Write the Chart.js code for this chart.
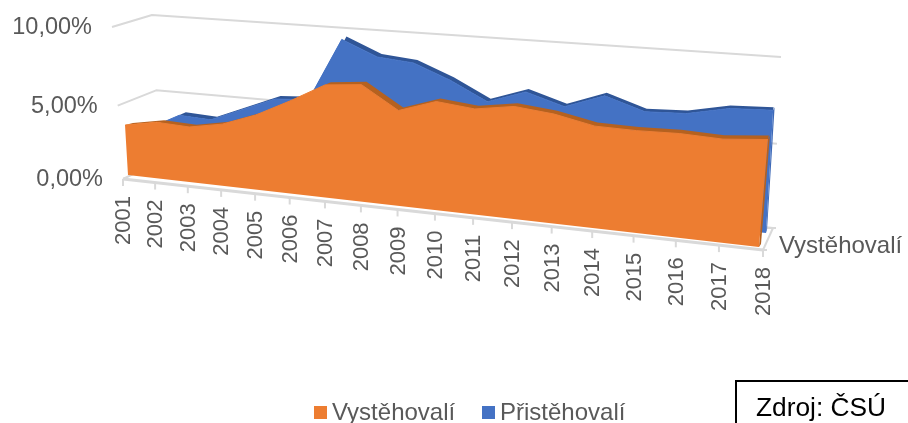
<!DOCTYPE html>
<html><head><meta charset="utf-8">
<style>html,body{margin:0;padding:0;background:#fff;overflow:hidden}canvas{display:block}</style>
<script src="https://cdn.jsdelivr.net/npm/chart.js@4"></script></head>
<body><canvas id="c" width="908" height="423"></canvas>
<script>
const years = ['2001','2002','2003','2004','2005','2006','2007','2008','2009','2010','2011','2012','2013','2014','2015','2016','2017','2018'];
const vystehovali = [3.4,3.8,3.7,4.1,4.9,6.0,7.2,7.4,6.0,6.75,6.5,6.85,6.6,6.1,6.05,6.1,6.0,6.2];
const pristehovali = [2.5,3.6,3.5,4.4,5.3,5.45,9.5,8.55,8.35,7.45,6.3,7.1,6.4,7.25,6.5,6.6,7.1,7.2];
const seriesNames = ['Vystěhovalí','Přistěhovalí'];
const seriesAxisLabel = 'Vystěhovalí';
const sourceText = 'Zdroj: ČSÚ';
const TEXT = '#595959', GRID = '#D9D9D9', ORANGE = '#ED7D31', ORANGE_D = '#B5611F', BLUE = '#4472C4', BLUE_D = '#2F5597';
const FONT = '"Liberation Sans", Arial, sans-serif';

// projection quads [BL, BR, TR, TL] for the perspective view
function hom(q){
  const [[x0,y0],[x1,y1],[x2,y2],[x3,y3]] = q;
  const dx1=x1-x2,dx2=x3-x2,sx=x0-x1+x2-x3,dy1=y1-y2,dy2=y3-y2,sy=y0-y1+y2-y3;
  const den=dx1*dy2-dx2*dy1, g=(sx*dy2-dx2*sy)/den, h=(dx1*sy-sx*dy1)/den;
  const a=x1-x0+g*x1,b=x3-x0+h*x3,d=y1-y0+g*y1,e=y3-y0+h*y3;
  return (s,t)=>{const w=g*s+h*t+1;return [(a*s+b*t+x0)/w,(d*s+e*t+y0)/w];};
}
const PLANE = {
  orange: hom([[128,175],[759,247],[773.6,71],[119,25]]),
  blue:   hom([[151,164],[766,233],[776,61],[143,18]]),
  front:  hom([[123,179],[763,250],[777,72],[112,27]]),
  back:   hom([[160,161],[773,228],[781,57],[152,15]]),
  side:   hom([[123,179],[160,161],[152,15],[112,27]])
};
const RIBBON = {0:{plane:'orange',dx0:8,dx1:1,dy0:-2,dy1:-4,fill:ORANGE,dark:ORANGE_D,side:ORANGE_D,sb:2},
                1:{plane:'blue',dx0:7,dx1:0.5,dy0:-3,dy1:-3,fill:BLUE,dark:BLUE_D,side:'#3E69B6',sb:1}};
const st = (chart,px,py)=>{const a=chart.chartArea;return [(px-a.left)/a.width,(a.bottom-py)/a.height];};

const perspective = {
  id:'perspective',
  afterDatasetsUpdate(chart){
    chart.data.datasets.forEach((ds,i)=>{
      const m=chart.getDatasetMeta(i), P=PLANE[RIBBON[i].plane];
      m.data.forEach(pt=>{const [s,t]=st(chart,pt.x,pt.y);const [x,y]=P(s,t);pt.x=x;pt.y=y;pt.$s=s;});
    });
  },
  beforeDatasetsDraw(chart){
    const c=chart.ctx,X=chart.scales.x,Y=chart.scales.y;
    c.save();c.strokeStyle=GRID;c.lineWidth=2;c.lineJoin='round';
    const line=(pts)=>{c.beginPath();pts.forEach((p,i)=>i?c.lineTo(p[0],p[1]):c.moveTo(p[0],p[1]));c.stroke();};
    c.fillStyle=TEXT;c.font='23.5px '+FONT;c.textAlign='right';c.textBaseline='middle';
    Y.ticks.forEach(tk=>{
      const [,t]=st(chart,X.left,Y.getPixelForValue(tk.value));
      const a=PLANE.side(0,t),b=PLANE.side(1,t),e=PLANE.back(1,t);
      line([a,b,e]);
      c.fillText(String(tk.label),a[0]-20,a[1]+1);
    });
    // floor front edge, ticks, and year labels
    c.lineWidth=3;line([PLANE.front(0,0),PLANE.front(1,0)]);
    c.lineWidth=2;line([PLANE.front(1,0),PLANE.back(1,0)]);
    const k=PLANE.back(1,0);line([[k[0]-11,k[1]],[k[0]+3,k[1]]]);
    const f=PLANE.front(1,0);line([[f[0]-4,f[1]],[f[0]+4,f[1]]]);
    c.font='22px '+FONT;
    X.ticks.forEach((tk,i)=>{
      const [s]=st(chart,X.getPixelForValue(i),Y.bottom);
      const p=PLANE.front(s,0);
      line([p,[p[0],p[1]+7]]);
      c.save();c.translate(p[0],p[1]+17);c.rotate(-Math.PI/2);c.fillStyle=TEXT;c.textAlign='right';c.textBaseline='middle';
      c.fillText(String(tk.label),0,1);c.restore();
    });
    c.font='24px '+FONT;c.textAlign='left';c.fillStyle=TEXT;c.fillText(seriesAxisLabel,779,246);
    c.restore();
  },
  beforeDatasetDraw(chart,args){
    const i=args.index,R=RIBBON[i],P=PLANE[R.plane],c=chart.ctx,pts=chart.getDatasetMeta(i).data;
    const off=s=>[R.dx0+(R.dx1-R.dx0)*s,R.dy0+(R.dy1-R.dy0)*s];
    const n=pts.length;
    c.save();
    // right side face
    const b=P(1,0),o=off(1);
    c.fillStyle=R.side;c.beginPath();c.moveTo(pts[n-1].x,pts[n-1].y);c.lineTo(pts[n-1].x+o[0]+1,pts[n-1].y+o[1]);c.lineTo(b[0]+R.sb,b[1]-3);c.lineTo(b[0],b[1]);c.closePath();c.fill();
    // top ribbon
    c.fillStyle=R.dark;c.beginPath();
    pts.forEach((p,j)=>j?c.lineTo(p.x,p.y):c.moveTo(p.x,p.y));
    for(let j=n-1;j>=0;j--){const q=off(pts[j].$s);c.lineTo(pts[j].x+q[0],pts[j].y+q[1]);}
    c.closePath();c.fill();
    // front face
    c.fillStyle=R.fill;c.beginPath();
    pts.forEach((p,j)=>j?c.lineTo(p.x,p.y):c.moveTo(p.x,p.y));
    c.lineTo(b[0],b[1]);const a=P(0,0);c.lineTo(a[0],a[1]);c.closePath();c.fill();
    c.restore();
  },
  afterDraw(chart){
    const c=chart.ctx;c.save();
    // legend
    c.font='24px '+FONT;c.textBaseline='alphabetic';c.textAlign='left';
    [[314,332,ORANGE],[482,500,BLUE]].forEach((l,i)=>{
      c.fillStyle=l[2];c.fillRect(l[0],406,13,13);
      c.fillStyle=TEXT;c.fillText(chart.data.datasets[i].label,l[1],420);
    });
    // source box
    c.strokeStyle='#000';c.lineWidth=2;c.beginPath();c.moveTo(736,424);c.lineTo(736,381);c.lineTo(909,381);c.stroke();
    c.fillStyle='#000';c.font='26.3px '+FONT;c.fillText(sourceText,756,416);
    c.restore();
  }
};

new Chart(document.getElementById('c'),{
  type:'line',
  data:{labels:years,datasets:[
    {label:seriesNames[0],data:vystehovali,borderColor:ORANGE,borderWidth:1,pointRadius:0,fill:false,tension:0,clip:false},
    {label:seriesNames[1],data:pristehovali,borderColor:BLUE,borderWidth:1,pointRadius:0,fill:false,tension:0,clip:false}
  ]},
  options:{responsive:false,animation:false,events:[],layout:{padding:0},
    plugins:{legend:{display:false},tooltip:{enabled:false}},
    scales:{
      x:{display:false,offset:false,ticks:{autoSkip:false}},
      y:{display:false,min:0,max:10,ticks:{stepSize:5,callback:v=>v.toFixed(2).replace('.',',')+'%'}}
    }},
  plugins:[perspective]
});
</script></body></html>
